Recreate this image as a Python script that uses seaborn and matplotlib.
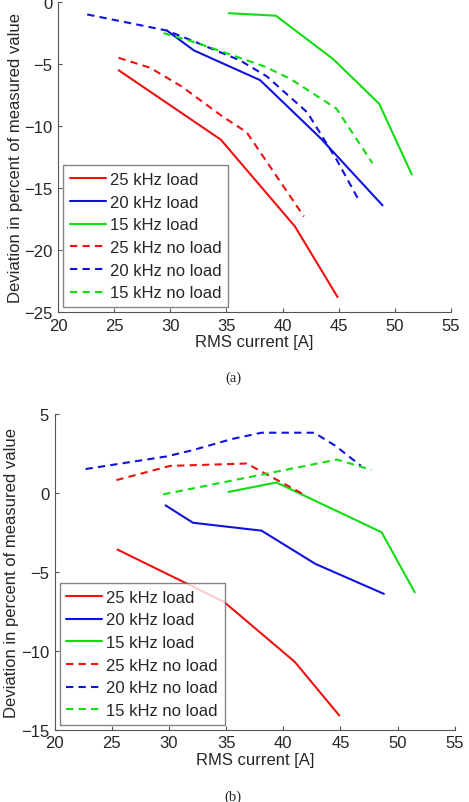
import numpy as np
import pandas as pd
import seaborn as sns
import matplotlib.pyplot as plt

labels = ["25 kHz load", "20 kHz load", "15 kHz load",
          "25 kHz no load", "20 kHz no load", "15 kHz no load"]

# (a)
a_25_load_x = [25.4, 34.5, 41.1, 44.9]
a_25_load_y = [-5.5, -11.1, -18.1, -23.8]
a_20_load_x = [29.7, 32.1, 38.0, 43.4, 48.9]
a_20_load_y = [-2.3, -3.9, -6.3, -11.0, -16.4]
a_15_load_x = [35.2, 39.4, 44.5, 48.6, 51.5]
a_15_load_y = [-0.9, -1.1, -4.6, -8.2, -13.9]
a_25_noload_x = [25.4, 28.2, 31.0, 34.6, 36.8, 41.9]
a_25_noload_y = [-4.5, -5.3, -6.8, -9.2, -10.5, -17.3]
a_20_noload_x = [22.6, 29.7, 31.9, 36.2, 38.6, 42.2, 44.8, 46.8]
a_20_noload_y = [-1.0, -2.3, -3.1, -4.7, -6.0, -8.9, -12.7, -16.0]
a_15_noload_x = [29.4, 32.4, 38.4, 40.7, 44.8, 48.0]
a_15_noload_y = [-2.5, -3.3, -5.2, -6.2, -8.6, -13.0]

# (b)
b_25_load_x = [25.5, 34.8, 41.0, 44.9]
b_25_load_y = [-3.6, -6.9, -10.7, -14.1]
b_20_load_x = [29.7, 32.1, 38.1, 42.8, 48.8]
b_20_load_y = [-0.8, -1.9, -2.4, -4.5, -6.4]
b_15_load_x = [35.2, 39.4, 48.6, 51.5]
b_15_load_y = [0.05, 0.65, -2.5, -6.3]
b_25_noload_x = [25.4, 30.1, 36.8, 41.9]
b_25_noload_y = [0.8, 1.7, 1.85, -0.15]
b_20_noload_x = [22.7, 29.8, 32.1, 35.5, 38.1, 42.7, 44.5, 46.8]
b_20_noload_y = [1.5, 2.3, 2.7, 3.4, 3.8, 3.8, 3.0, 1.7]
b_15_noload_x = [29.5, 44.7, 47.7]
b_15_noload_y = [-0.1, 2.1, 1.45]

colors = ["#ee1111", "#1111dd", "#11dd11"] * 2
styles = ["-", "-", "-", "--", "--", "--"]

panel_a = [(a_25_load_x, a_25_load_y), (a_20_load_x, a_20_load_y), (a_15_load_x, a_15_load_y),
           (a_25_noload_x, a_25_noload_y), (a_20_noload_x, a_20_noload_y), (a_15_noload_x, a_15_noload_y)]
panel_b = [(b_25_load_x, b_25_load_y), (b_20_load_x, b_20_load_y), (b_15_load_x, b_15_load_y),
           (b_25_noload_x, b_25_noload_y), (b_20_noload_x, b_20_noload_y), (b_15_noload_x, b_15_noload_y)]

sns.set_style("ticks")
plt.rcParams['font.family'] = ['Liberation Sans', 'DejaVu Sans']

fig = plt.figure(figsize=(4.69, 8.03), dpi=100)
ax1 = fig.add_axes([0.1237, 0.6102, 0.838, 0.386])
ax2 = fig.add_axes([0.1166, 0.09, 0.853, 0.3935])

FS = 12


def draw(ax, series, ylim, yticks):
    for (xs, ys), lab, c, ls in zip(series, labels, colors, styles):
        df = pd.DataFrame({"x": xs, "y": ys})
        sns.lineplot(data=df, x="x", y="y", ax=ax, color=c, label=lab,
                     linewidth=1.5, sort=False)
        l = ax.get_lines()[-1]
        if ls == "--":
            l.set_dashes((3.5, 2.5))
    ax.set_xlim(20, 55)
    ax.set_ylim(*ylim)
    ax.set_xticks(np.arange(20, 56, 5))
    ax.set_yticks(yticks)
    sns.despine(ax=ax)
    ax.spines['left'].set_color('#555555')
    ax.spines['bottom'].set_color('#555555')
    ax.tick_params(direction='in', labelsize=FS, length=3, color='#555555', pad=4)
    ax.set_xlabel("RMS current [A]", fontsize=FS, labelpad=1)
    ax.set_ylabel("Deviation in percent of measured value", fontsize=FS, labelpad=1)
    leg = ax.legend(loc="lower left", fontsize=FS, frameon=True, fancybox=False,
                    edgecolor="#666666", handlelength=2.15, handletextpad=0.25,
                    borderpad=0.4, labelspacing=0.46, borderaxespad=0.3)
    leg.get_frame().set_linewidth(1.0)
    for h in leg.get_lines()[3:]:
        h.set_dashes((3.5, 2.5))


draw(ax1, panel_a, (-25, 0), [-25, -20, -15, -10, -5, 0])
draw(ax2, panel_b, (-15, 5), [-15, -10, -5, 0, 5])

fig.text(0.497, 1 - 378 / 803, "(a)", ha="center", va="center",
         fontsize=10.5, family="Liberation Serif")
fig.text(0.497, 1 - 797 / 803, "(b)", ha="center", va="center",
         fontsize=10.5, family="Liberation Serif")

fig.savefig("out.png", dpi=100)
